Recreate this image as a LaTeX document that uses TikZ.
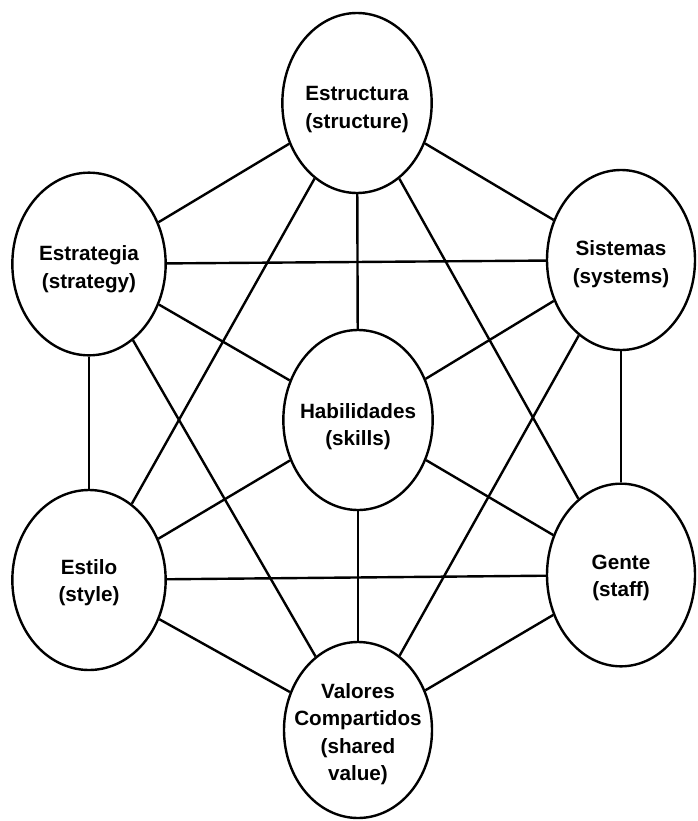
\documentclass[tikz,border=0pt]{standalone}
\usepackage{fontspec}
\setmainfont{Liberation Sans}
\usetikzlibrary{shapes.geometric}
\begin{document}
\begin{tikzpicture}[x=0.75pt,y=-0.75pt,
  elem/.style={ellipse, draw, line width=1.8pt, inner sep=0pt,
    minimum width=112pt, minimum height=135pt},
  lbl/.style={align=center, inner sep=0pt,
    font=\bfseries\fontsize{15.5}{20.5}\selectfont},
  link/.style={line width=1.8pt}
]
\useasboundingbox (0,0) rectangle (697,821);

% the seven elements
\node[elem] (str)   at (357,103) {};
\node[elem, minimum width=115pt, minimum height=137pt] (strat) at (89,264) {};
\node[elem, minimum width=111pt] (sis)   at (621,260) {};
\node[elem] (hab)   at (358,420) {};
\node[elem, minimum width=115pt] (est)   at (89,580) {};
\node[elem, minimum width=111pt, minimum height=137pt] (gen)   at (621,575) {};
\node[elem, minimum width=111pt, minimum height=132pt] (val)   at (358,730) {};

% element names
\node[lbl] (tstr)   at ([yshift=-5pt]str.center)   {Estructura\\(structure)};
\node[lbl] (tstrat) at ([yshift=-4pt]strat.center) {Estrategia\\(strategy)};
\node[lbl] (tsis)   at ([yshift=-3pt]sis.center)   {Sistemas\\(systems)};
\node[lbl] (thab)   at ([yshift=-5pt]hab.center)   {Habilidades\\(skills)};
\node[lbl] (test)   at ([yshift=-2pt]est.center)   {Estilo\\(style)};
\node[lbl] (tgen)   at ([yshift=-2pt]gen.center)   {Gente\\(staff)};
\node[lbl] (tval)   at ([yshift=-3pt]val.center)   {Valores\\Compartidos\\(shared\\value)};

% links between the elements
\draw[link] (str) -- (strat);
\draw[link] (str) -- (sis);
\draw[link] (str) -- (hab);
\draw[link] (str) -- (est);
\draw[link] (str) -- (gen);
\draw[link] (strat) -- (sis);
\draw[link] (strat) -- (hab);
\draw[link] (strat) -- (est);
\draw[link] (strat) -- (val);
\draw[link] (sis) -- (hab);
\draw[link] (sis) -- (gen);
\draw[link] (sis) -- (val);
\draw[link] (hab) -- (est);
\draw[link] (hab) -- (gen);
\draw[link] (hab) -- (val);
\draw[link] (est) -- (gen);
\draw[link] (est) -- (val);
\draw[link] (gen) -- (val);
\end{tikzpicture}
\end{document}
